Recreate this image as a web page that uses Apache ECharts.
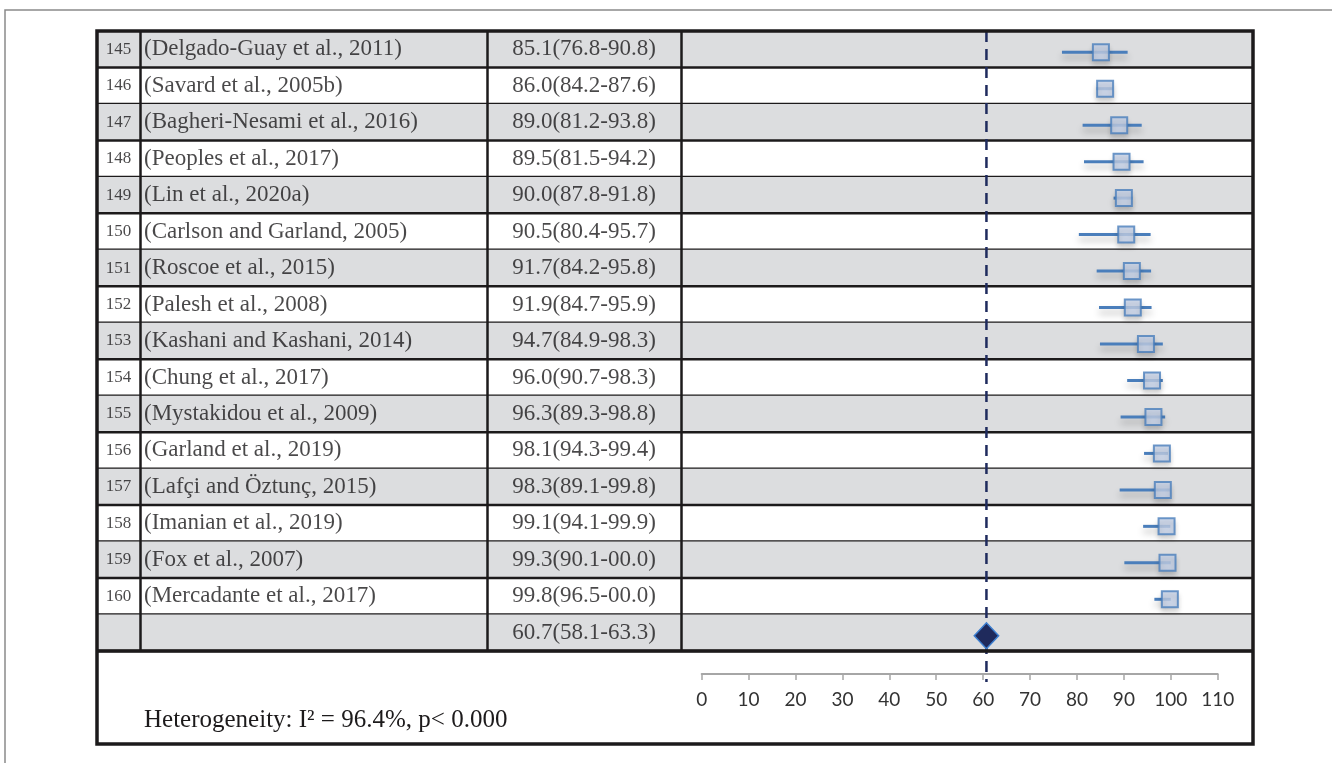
<!DOCTYPE html>
<html>
<head>
<meta charset="utf-8">
<script src="https://cdn.jsdelivr.net/npm/echarts@6/dist/echarts.min.js"></script>
<style>
  html, body { margin: 0; padding: 0; background: #ffffff; }
  #chart { width: 1332px; height: 763px; }
</style>
</head>
<body>
<div id="chart"></div>
<script>
// ---------------- data ----------------
const studyIds = ['145','146','147','148','149','150','151','152','153','154','155','156','157','158','159','160'];
const studyNames = [
  '(Delgado-Guay et al., 2011)',
  '(Savard et al., 2005b)',
  '(Bagheri-Nesami et al., 2016)',
  '(Peoples et al., 2017)',
  '(Lin et al., 2020a)',
  '(Carlson and Garland, 2005)',
  '(Roscoe et al., 2015)',
  '(Palesh et al., 2008)',
  '(Kashani and Kashani, 2014)',
  '(Chung et al., 2017)',
  '(Mystakidou et al., 2009)',
  '(Garland et al., 2019)',
  '(Lafçi and Öztunç, 2015)',
  '(Imanian et al., 2019)',
  '(Fox et al., 2007)',
  '(Mercadante et al., 2017)'
];
const estimates = [85.1, 86.0, 89.0, 89.5, 90.0, 90.5, 91.7, 91.9, 94.7, 96.0, 96.3, 98.1, 98.3, 99.1, 99.3, 99.8];
const lowerCI   = [76.8, 84.2, 81.2, 81.5, 87.8, 80.4, 84.2, 84.7, 84.9, 90.7, 89.3, 94.3, 89.1, 94.1, 90.1, 96.5];
const upperCI   = [90.8, 87.6, 93.8, 94.2, 91.8, 95.7, 95.8, 95.9, 98.3, 98.3, 98.8, 99.4, 99.8, 99.9, 100.0, 100.0];
const ciLabels  = [
  '85.1(76.8-90.8)', '86.0(84.2-87.6)', '89.0(81.2-93.8)', '89.5(81.5-94.2)',
  '90.0(87.8-91.8)', '90.5(80.4-95.7)', '91.7(84.2-95.8)', '91.9(84.7-95.9)',
  '94.7(84.9-98.3)', '96.0(90.7-98.3)', '96.3(89.3-98.8)', '98.1(94.3-99.4)',
  '98.3(89.1-99.8)', '99.1(94.1-99.9)', '99.3(90.1-00.0)', '99.8(96.5-00.0)'
];
const pooled = { est: 60.7, lower: 58.1, upper: 63.3, label: '60.7(58.1-63.3)' };
const heterogeneityText = 'Heterogeneity: I² = 96.4%, p< 0.000';
const xTicks = { min: 0, max: 110, interval: 10 };

// ---------------- layout helpers ----------------
const nRows = studyIds.length + 1;          // 16 studies + pooled row
const rowIds = studyIds.concat(['']);
const rowNames = studyNames.concat(['']);
const rowCI = ciLabels.concat([pooled.label]);
const TABLE_W = 1156;                        // table grid width in px units
const colSep = [43, 390, 584];               // column separators (table units)
const INK = '#1c1a1b';
const SERIF = '"Liberation Serif", "Times New Roman", serif';

const chart = echarts.init(document.getElementById('chart'), null, { renderer: 'canvas' });

const rowIdx = Array.from({ length: nRows }, (_, i) => i);

const option = {
  animation: false,
  backgroundColor: '#ffffff',
  grid: [
    { left: 97, top: 31, width: TABLE_W, height: 620 },   // table
    { left: 701.7, top: 34, width: 516, height: 620 }     // forest plot
  ],
  xAxis: [
    { gridIndex: 0, type: 'value', min: 0, max: TABLE_W, show: false },
    {
      gridIndex: 1, type: 'value', min: xTicks.min, max: xTicks.max, interval: xTicks.interval,
      position: 'bottom', offset: 20,
      axisLine: { show: true, onZero: false, lineStyle: { color: '#a6a6a6', width: 2 } },
      axisTick: { show: true, length: 6, lineStyle: { color: '#a6a6a6', width: 1.5 } },
      axisLabel: { fontFamily: 'Lato', fontSize: 19, color: '#333333', margin: 16 },
      splitLine: { show: false }
    }
  ],
  yAxis: [
    { gridIndex: 0, type: 'value', min: 0, max: nRows, inverse: true, show: false },
    { gridIndex: 1, type: 'value', min: -0.5, max: nRows - 0.5, inverse: true, show: false }
  ],
  graphic: [
    // outer light frame
    { type: 'polyline', z: 100, silent: true,
      shape: { points: [[5, 763], [5, 10], [1332, 10]] },
      style: { stroke: '#8a8a8a', lineWidth: 1.5, fill: null } },
    // table + bottom box border
    { type: 'rect', z: 100, silent: true,
      shape: { x: 97, y: 31, width: 1156, height: 713 },
      style: { stroke: INK, lineWidth: 3.5, fill: null } },
    { type: 'line', z: 100, silent: true,
      shape: { x1: 97, y1: 651, x2: 1253, y2: 651 },
      style: { stroke: INK, lineWidth: 3.5 } },
    { type: 'text', z: 100, silent: true, left: 144, top: 708,
      style: { text: heterogeneityText, font: '25px ' + SERIF, fill: INK } }
  ],
  series: [
    // row shading and row lines
    {
      type: 'custom', xAxisIndex: 0, yAxisIndex: 0, z: 0, silent: true,
      data: rowIdx,
      renderItem: function (params, api) {
        const i = api.value(0);
        const p0 = api.coord([0, i]);
        const p1 = api.coord([TABLE_W, i + 1]);
        const children = [];
        if (i % 2 === 0) {
          children.push({ type: 'rect', shape: { x: p0[0], y: p0[1], width: p1[0] - p0[0], height: p1[1] - p0[1] },
            style: { fill: '#dcdddf' } });
        }
        children.push({ type: 'line', shape: { x1: p0[0], y1: p1[1], x2: p1[0], y2: p1[1] },
          style: { stroke: INK, lineWidth: 2.5 } });
        return { type: 'group', children: children };
      },
      markLine: {
        silent: true, symbol: 'none', label: { show: false },
        lineStyle: { color: INK, width: 2.5, type: 'solid' },
        data: colSep.map(x => ({ xAxis: x }))
      }
    },
    // id column
    {
      type: 'scatter', xAxisIndex: 0, yAxisIndex: 0, symbolSize: 0, z: 5, silent: true,
      data: rowIdx.map(i => [21.5, i + 0.5]),
      label: { show: true, position: 'inside', formatter: p => rowIds[p.dataIndex],
        fontFamily: SERIF, fontSize: 17, color: INK }
    },
    // study names
    {
      type: 'scatter', xAxisIndex: 0, yAxisIndex: 0, symbolSize: 0, z: 5, silent: true,
      data: rowIdx.map(i => [47, i + 0.5]),
      label: { show: true, position: 'right', distance: 0, formatter: p => rowNames[p.dataIndex],
        fontFamily: SERIF, fontSize: 23, color: INK }
    },
    // estimate text
    {
      type: 'scatter', xAxisIndex: 0, yAxisIndex: 0, symbolSize: 0, z: 5, silent: true,
      data: rowIdx.map(i => [487, i + 0.5]),
      label: { show: true, position: 'inside', formatter: p => rowCI[p.dataIndex],
        fontFamily: SERIF, fontSize: 23, color: INK }
    },
    // dashed reference line at pooled estimate
    {
      type: 'custom', xAxisIndex: 1, yAxisIndex: 1, z: 6, silent: true, clip: false,
      data: [[pooled.est]],
      renderItem: function (params, api) {
        const cs = params.coordSys;
        const x = api.coord([api.value(0), 0])[0];
        return { type: 'line', shape: { x1: x, y1: cs.y - 3, x2: x, y2: cs.y + cs.height + 28 },
          style: { stroke: '#1f2b5e', lineWidth: 2.5, lineDash: [11, 7] } };
      }
    },
    // CI whiskers
    {
      type: 'custom', xAxisIndex: 1, yAxisIndex: 1, z: 7, silent: true,
      data: estimates.map((e, i) => [lowerCI[i], upperCI[i], i]),
      renderItem: function (params, api) {
        const a = api.coord([api.value(0), api.value(2)]);
        const b = api.coord([api.value(1), api.value(2)]);
        return { type: 'line', shape: { x1: a[0], y1: a[1], x2: b[0], y2: b[1] },
          style: { stroke: '#4a7ebb', lineWidth: 3, shadowColor: 'rgba(0,0,0,0.28)', shadowBlur: 7, shadowOffsetY: 5 } };
      }
    },
    // point estimates
    {
      type: 'scatter', xAxisIndex: 1, yAxisIndex: 1, z: 8, silent: true,
      symbol: 'rect', symbolSize: 16,
      data: estimates.map((e, i) => [e, i]),
      itemStyle: { color: '#c7d3ea', borderColor: '#4a7ebb', borderWidth: 2,
        shadowColor: 'rgba(0,0,0,0.2)', shadowBlur: 5, shadowOffsetY: 4 }
    },
    // pooled diamond
    {
      type: 'custom', xAxisIndex: 1, yAxisIndex: 1, z: 8, silent: true, clip: false,
      data: [[pooled.lower, pooled.upper, pooled.est, nRows - 1]],
      renderItem: function (params, api) {
        const l = api.coord([api.value(0), api.value(3)]);
        const r = api.coord([api.value(1), api.value(3)]);
        const c = api.coord([api.value(2), api.value(3)]);
        const h = 13;
        return { type: 'polygon',
          shape: { points: [[l[0], c[1]], [c[0], c[1] - h], [r[0], c[1]], [c[0], c[1] + h]] },
          style: { fill: '#1f2a5c', stroke: '#3d7fd0', lineWidth: 1.5 } };
      }
    }
  ]
};

chart.setOption(option);
</script>
</body>
</html>
